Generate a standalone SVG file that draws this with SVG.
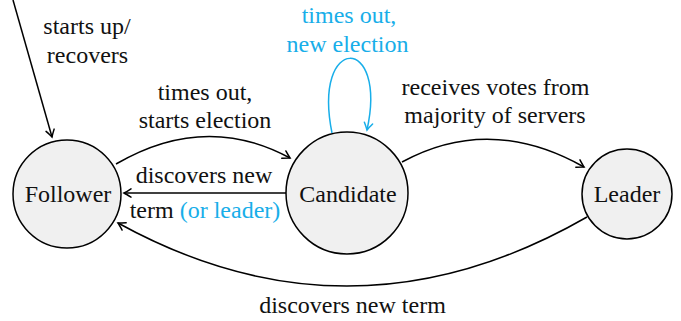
<svg xmlns="http://www.w3.org/2000/svg" width="681" height="321" viewBox="0 0 681 321">
<defs>
<marker id="ah" viewBox="-8 -5 10 10" refX="0" refY="0" markerWidth="10" markerHeight="10" markerUnits="userSpaceOnUse" orient="auto" overflow="visible">
<path d="M-7,-4.2 Q-2,-1 0,0 Q-2,1 -7,4.2" fill="none" stroke="#000" stroke-width="1.5" stroke-linecap="round"/>
</marker>
<marker id="ahb" viewBox="-8 -5 10 10" refX="0" refY="0" markerWidth="10" markerHeight="10" markerUnits="userSpaceOnUse" orient="auto" overflow="visible">
<path d="M-7,-4.2 Q-2,-1 0,0 Q-2,1 -7,4.2" fill="none" stroke="#18aee9" stroke-width="1.5" stroke-linecap="round"/>
</marker>
</defs>
<g id="connectors" fill="none" stroke="#000" stroke-width="1.5">
<path d="M13,0 L52,137" marker-end="url(#ah)"/>
<path d="M116,164 Q205,112 290,158" marker-end="url(#ah)"/>
<path d="M287,193 L124,193" marker-end="url(#ah)"/>
<path d="M402,162 Q490,114 584,167" marker-end="url(#ah)"/>
<path d="M587,217 Q352,352 118,223" marker-end="url(#ah)"/>
<path d="M332,133 C312,34 388,34 367,130" stroke="#18aee9" marker-end="url(#ahb)"/>
</g>
<g id="labels">
<text font-family="Liberation Serif" font-size="24" text-anchor="middle" fill="#111" x="87" y="34">starts up/</text>
<text font-family="Liberation Serif" font-size="24" text-anchor="middle" fill="#111" x="87.5" y="63">recovers</text>
<text font-family="Liberation Serif" font-size="24" text-anchor="middle" fill="#111" x="205" y="100">times out,</text>
<text font-family="Liberation Serif" font-size="24" text-anchor="middle" fill="#111" x="205" y="128">starts election</text>
<text font-family="Liberation Serif" font-size="24" text-anchor="middle" fill="#18aee9" x="349" y="23">times out,</text>
<text font-family="Liberation Serif" font-size="24" text-anchor="middle" fill="#18aee9" x="347.5" y="52">new election</text>
<text font-family="Liberation Serif" font-size="24" text-anchor="middle" fill="#111" x="495.5" y="95">receives votes from</text>
<text font-family="Liberation Serif" font-size="24" text-anchor="middle" fill="#111" x="495" y="123">majority of servers</text>
<text font-family="Liberation Serif" font-size="24" text-anchor="middle" fill="#111" x="204" y="183">discovers new</text>
<text font-family="Liberation Serif" font-size="24" text-anchor="middle" fill="#111" x="205" y="218">term <tspan fill="#18aee9">(or leader)</tspan></text>
<text font-family="Liberation Serif" font-size="24" text-anchor="middle" fill="#111" x="352.5" y="313">discovers new term</text>
</g>
<g id="follower">
<circle cx="67" cy="194" r="54" fill="#f0f0f0" stroke="#000" stroke-width="1.5"/>
<text font-family="Liberation Serif" font-size="24" text-anchor="middle" fill="#111" x="68" y="202">Follower</text>
</g>
<g id="candidate">
<circle cx="347" cy="193" r="61" fill="#f0f0f0" stroke="#000" stroke-width="1.5"/>
<text font-family="Liberation Serif" font-size="24" text-anchor="middle" fill="#111" x="348" y="202">Candidate</text>
</g>
<g id="leader">
<circle cx="627" cy="194" r="45" fill="#f0f0f0" stroke="#000" stroke-width="1.5"/>
<text font-family="Liberation Serif" font-size="24" text-anchor="middle" fill="#111" x="627" y="202">Leader</text>
</g>
</svg>
